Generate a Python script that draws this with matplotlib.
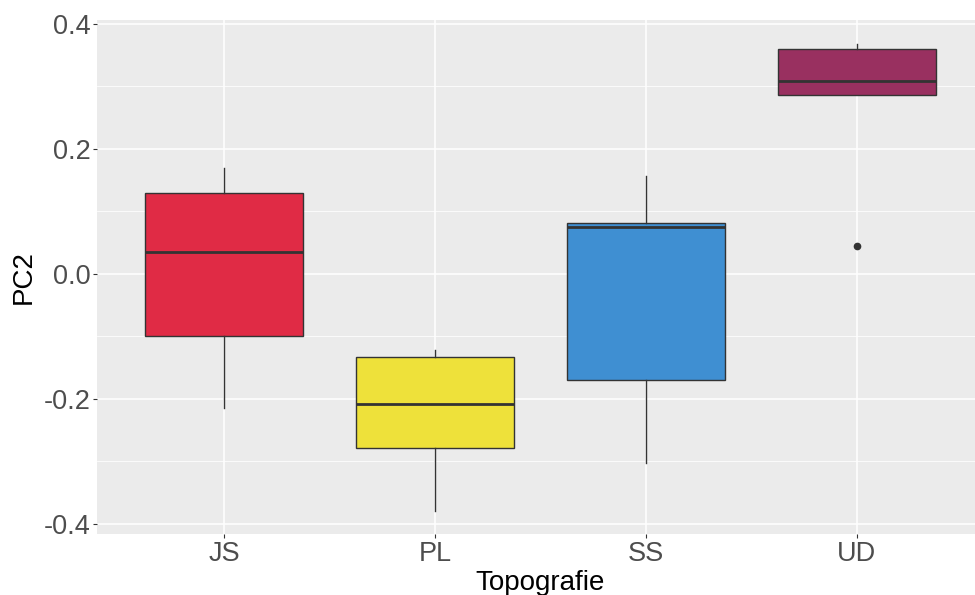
import numpy as np
import matplotlib
matplotlib.use("Agg")
import matplotlib.pyplot as plt

plt.rcParams['font.family'] = ['Liberation Sans', 'DejaVu Sans']

# values
groups = ["JS", "PL", "SS", "UD"]
whisker_low = [-0.2144, -0.3792, -0.3024, 0.2859]
q1 = [-0.0992, -0.2784, -0.1696, 0.2859]
median = [0.0352, -0.2080, 0.0752, 0.3093]
q3 = [0.1296, -0.1328, 0.0816, 0.3595]
whisker_high = [0.1696, -0.1216, 0.1568, 0.3685]
outliers = [[], [], [], [0.0453]]
colors = ["#E02B45", "#EEE13A", "#3F8FD2", "#993060"]

fig = plt.figure(figsize=(9.75, 5.95), dpi=100)
ax = fig.add_axes([0.0999, 0.1025, 0.9087, 0.8645])
ax.set_facecolor("#EBEBEB")

stats = []
for i, g in enumerate(groups):
    stats.append(dict(label=g, whislo=whisker_low[i], q1=q1[i], med=median[i],
                      q3=q3[i], whishi=whisker_high[i], fliers=outliers[i]))

pos = np.arange(1, len(groups) + 1)
bp = ax.bxp(stats, positions=pos, widths=0.75, patch_artist=True, showcaps=False,
            boxprops=dict(edgecolor="#333333", linewidth=1.0),
            whiskerprops=dict(color="#333333", linewidth=1.0),
            medianprops=dict(color="#333333", linewidth=2.0),
            flierprops=dict(marker="o", markerfacecolor="#333333",
                            markeredgecolor="#333333", markersize=4.5),
            zorder=3)
for patch, c in zip(bp["boxes"], colors):
    patch.set_facecolor(c)

ax.set_xlim(0.4, 4.6)
ax.set_ylim(-0.4166, 0.407)
ax.set_xticks(pos)
ax.set_xticklabels(groups)
ax.set_yticks([-0.4, -0.2, 0.0, 0.2, 0.4])
ax.set_yticklabels(["-0.4", "-0.2", "0.0", "0.2", "0.4"])
ax.set_yticks([-0.3, -0.1, 0.1, 0.3], minor=True)

ax.grid(True, which="major", color="white", linewidth=1.1, zorder=0)
ax.grid(True, which="minor", axis="y", color="white", linewidth=0.55, zorder=0)
ax.set_axisbelow(True)
for s in ax.spines.values():
    s.set_visible(False)

ax.tick_params(which="major", length=2.7, width=0.8, color="#333333",
               labelsize=19.5, labelcolor="#4D4D4D", pad=2.2)
ax.tick_params(which="minor", length=0)

ax.set_xlabel("Topografie", fontsize=20, color="black", labelpad=2)
ax.set_ylabel("PC2", fontsize=20, color="black", labelpad=5)

fig.savefig("out.png", dpi=100)
